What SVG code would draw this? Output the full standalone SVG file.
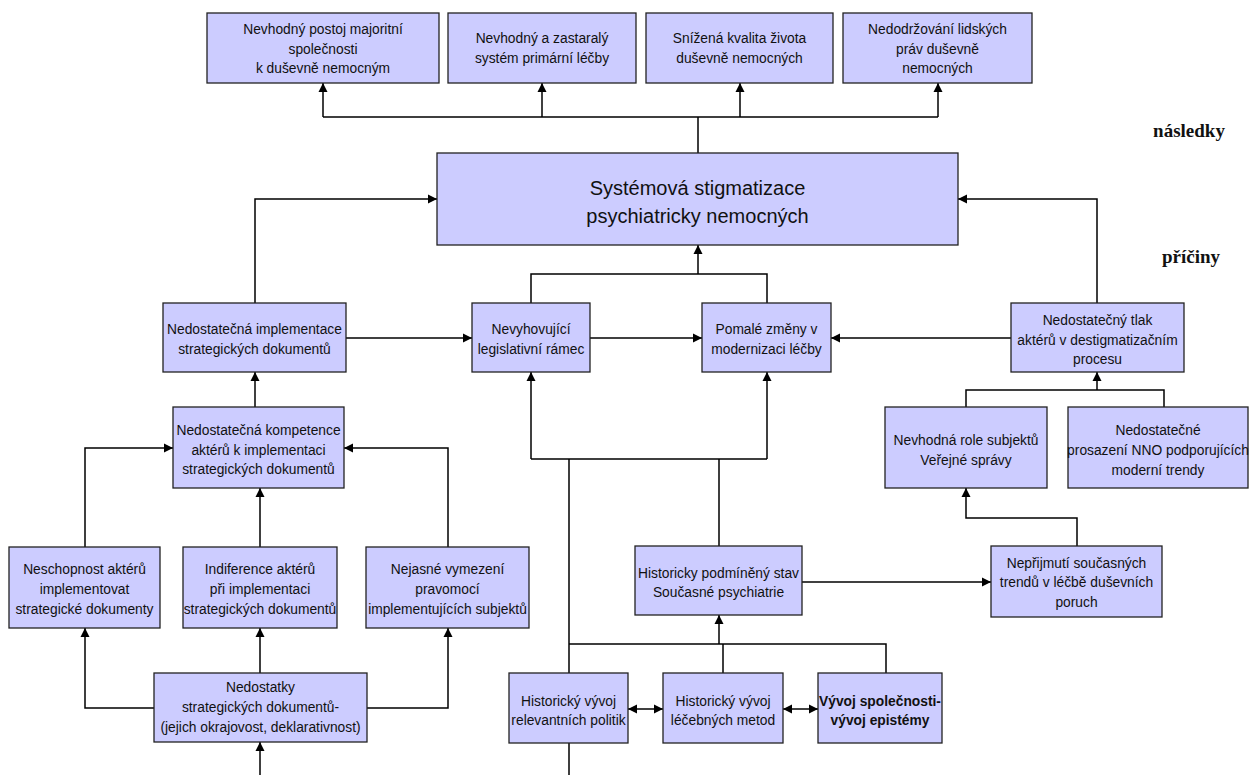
<svg xmlns="http://www.w3.org/2000/svg" width="1252" height="775" viewBox="0 0 1252 775">
<defs>
<marker id="ah" viewBox="0 0 10 10" markerWidth="9" markerHeight="10" refX="10" refY="5" orient="auto-start-reverse" markerUnits="userSpaceOnUse"><path d="M0,0 L10,5 L0,10 z" fill="#000"/></marker>
<style>
.b{fill:#CCCCFF;stroke:#222;stroke-width:1.3}
.t{font-family:"Liberation Sans",Arial,sans-serif;font-size:13.8px;fill:#111;text-anchor:middle}
.tb{font-weight:bold}
.big{font-family:"Liberation Sans",Arial,sans-serif;font-size:20px;fill:#111;text-anchor:middle}
.lab{font-family:"Liberation Serif","Times New Roman",serif;font-size:19px;font-weight:bold;fill:#111;text-anchor:middle}
.c{fill:none;stroke:#000;stroke-width:1.5}
.a{marker-end:url(#ah)}
.d{marker-start:url(#ah);marker-end:url(#ah)}
</style>
</defs>
<rect width="1252" height="775" fill="#fff"/>
<g id="connectors">
<path class="c" d="M698,153 V117 M323,117 H938"/>
<path class="c a" d="M323,117 V83"/>
<path class="c a" d="M542,117 V83"/>
<path class="c a" d="M740,117 V83"/>
<path class="c a" d="M938,117 V83"/>
<path class="c a" d="M255,303 V199 H437"/>
<path class="c a" d="M1097,303 V199 H958"/>
<path class="c" d="M531,303 V274 H767 V303"/>
<path class="c a" d="M698,274 V245"/>
<path class="c a" d="M346,338 H472"/>
<path class="c a" d="M590,338 H702"/>
<path class="c a" d="M1011,338 H831"/>
<path class="c a" d="M255,407 V372"/>
<path class="c a" d="M85,547 V448 H173"/>
<path class="c a" d="M448,547 V448 H344"/>
<path class="c a" d="M260,547 V488"/>
<path class="c a" d="M260,673 V628"/>
<path class="c a" d="M154,708 H85 V628"/>
<path class="c a" d="M367,708 H448 V628"/>
<path class="c a" d="M260,775 V742"/>
<path class="c a" d="M531,459 V372"/>
<path class="c a" d="M767,459 V372"/>
<path class="c" d="M531,459 H767 M569,459 V673 M569,743 V775 M719,459 V546"/>
<path class="c a" d="M802,582 H991"/>
<path class="c a" d="M1077,546 V518 H966 V488"/>
<path class="c" d="M966,407 V390 H1164 V407"/>
<path class="c a" d="M1097,390 V372"/>
<path class="c" d="M569,644 H886 V673 M723,644 V673"/>
<path class="c a" d="M719,644 V615"/>
<path class="c d" d="M628,709 H663"/>
<path class="c d" d="M783,709 H818"/>
</g>
<g id="n_top1"><rect class="b" x="207" y="13" width="232" height="70"/><text class="t" x="323" y="34">Nevhodný postoj majoritní</text><text class="t" x="323" y="53.5">společnosti</text><text class="t" x="323" y="73">k duševně nemocným</text></g>
<g id="n_top2"><rect class="b" x="448" y="13" width="188" height="70"/><text class="t" x="542" y="43">Nevhodný a zastaralý</text><text class="t" x="542" y="63">systém primární léčby</text></g>
<g id="n_top3"><rect class="b" x="646" y="13" width="187" height="70"/><text class="t" x="739.5" y="43">Snížená kvalita života</text><text class="t" x="739.5" y="63">duševně nemocných</text></g>
<g id="n_top4"><rect class="b" x="843" y="13" width="189" height="70"/><text class="t" x="937.5" y="34">Nedodržování lidských</text><text class="t" x="937.5" y="53.5">práv duševně</text><text class="t" x="937.5" y="73">nemocných</text></g>
<g id="n_center"><rect class="b" x="437" y="153" width="521" height="92"/><text class="big" x="697.5" y="195">Systémová stigmatizace</text><text class="big" x="697.5" y="223">psychiatricky nemocných</text></g>
<g id="lab1"><text class="lab" x="1189" y="137">následky</text></g>
<g id="lab2"><text class="lab" x="1191" y="263">příčiny</text></g>
<g id="n_impl"><rect class="b" x="163" y="303" width="183" height="69"/><text class="t" x="254.5" y="334">Nedostatečná implementace</text><text class="t" x="254.5" y="354">strategických dokumentů</text></g>
<g id="n_legis"><rect class="b" x="472" y="303" width="118" height="69"/><text class="t" x="531" y="334">Nevyhovující</text><text class="t" x="531" y="354">legislativní rámec</text></g>
<g id="n_pomale"><rect class="b" x="702" y="303" width="129" height="69"/><text class="t" x="766.5" y="334">Pomalé změny v</text><text class="t" x="766.5" y="354">modernizaci léčby</text></g>
<g id="n_tlak"><rect class="b" x="1011" y="303" width="173" height="69"/><text class="t" x="1097.5" y="325">Nedostatečný tlak</text><text class="t" x="1097.5" y="345">aktérů v destigmatizačním</text><text class="t" x="1097.5" y="364">procesu</text></g>
<g id="n_komp"><rect class="b" x="173" y="407" width="171" height="81"/><text class="t" x="258.5" y="435">Nedostatečná kompetence</text><text class="t" x="258.5" y="455">aktérů k implementaci</text><text class="t" x="258.5" y="474">strategických dokumentů</text></g>
<g id="n_role"><rect class="b" x="885" y="407" width="162" height="81"/><text class="t" x="966" y="445">Nevhodná role subjektů</text><text class="t" x="966" y="465">Veřejné správy</text></g>
<g id="n_nno"><rect class="b" x="1068" y="407" width="180" height="81"/><text class="t" x="1158" y="435">Nedostatečné</text><text class="t" x="1158" y="455">prosazení NNO podporujících</text><text class="t" x="1158" y="475">moderní trendy</text></g>
<g id="n_nesch"><rect class="b" x="9" y="547" width="151" height="81"/><text class="t" x="84.5" y="574">Neschopnost aktérů</text><text class="t" x="84.5" y="594">implementovat</text><text class="t" x="84.5" y="614">strategické dokumenty</text></g>
<g id="n_indif"><rect class="b" x="183" y="547" width="154" height="81"/><text class="t" x="260" y="574">Indiference aktérů</text><text class="t" x="260" y="594">při implementaci</text><text class="t" x="260" y="614">strategických dokumentů</text></g>
<g id="n_nejasne"><rect class="b" x="366" y="547" width="163" height="81"/><text class="t" x="447.5" y="574">Nejasné vymezení</text><text class="t" x="447.5" y="594">pravomocí</text><text class="t" x="447.5" y="614">implementujících subjektů</text></g>
<g id="n_hist"><rect class="b" x="635" y="546" width="167" height="69"/><text class="t" x="718.5" y="578">Historicky podmíněný stav</text><text class="t" x="718.5" y="597">Současné psychiatrie</text></g>
<g id="n_neprij"><rect class="b" x="991" y="546" width="171" height="71"/><text class="t" x="1076.5" y="568">Nepřijmutí současných</text><text class="t" x="1076.5" y="587">trendů v léčbě duševních</text><text class="t" x="1076.5" y="607">poruch</text></g>
<g id="n_nedost"><rect class="b" x="154" y="673" width="213" height="69"/><text class="t" x="260.5" y="692">Nedostatky</text><text class="t" x="260.5" y="712">strategických dokumentů-</text><text class="t" x="260.5" y="732">(jejich okrajovost, deklarativnost)</text></g>
<g id="n_h1"><rect class="b" x="509" y="673" width="119" height="70"/><text class="t" x="568.5" y="706">Historický vývoj</text><text class="t" x="568.5" y="725">relevantních politik</text></g>
<g id="n_h2"><rect class="b" x="663" y="673" width="120" height="70"/><text class="t" x="723" y="706">Historický vývoj</text><text class="t" x="723" y="725">léčebných metod</text></g>
<g id="n_h3"><rect class="b" x="818" y="673" width="124" height="70"/><text class="t tb" x="880" y="706">Vývoj společnosti-</text><text class="t tb" x="880" y="725">vývoj epistémy</text></g>
</svg>
